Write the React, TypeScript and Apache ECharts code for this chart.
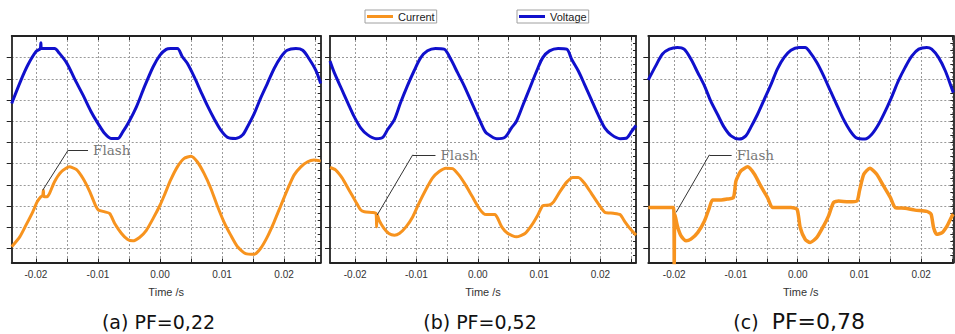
import React, { useEffect, useRef } from 'react';
import * as echarts from 'echarts';

// ---- tick values / labels ----
const xTickValues = [-0.02, -0.015, -0.01, -0.005, 0, 0.005, 0.01, 0.015, 0.02, 0.025];
const xLabelValues = [-0.02, -0.01, 0, 0.01, 0.02];
const yGridValues = [0, 1, 2, 3, 4, 5, 6, 7, 8, 9];
const yMinorValues: number[] = [];
for (let k = -1; k <= 30; k++) yMinorValues.push(k / 3);
const xAxisName = 'Time /s';
const seriesNames = ['Current', 'Voltage'];

// ---- panel (a) PF=0,22 ----
const voltageA: [number, number][] = [
  [-0.0239, 6.84], [-0.0224, 7.94], [-0.0213, 8.65], [-0.02, 9.28], [-0.0193, 9.43], [-0.0192, 9.7],
  [-0.0191, 9.43], [-0.017, 9.43], [-0.0162, 9.2], [-0.015, 8.73], [-0.0138, 8.02], [-0.0124, 7.23],
  [-0.0111, 6.45], [-0.01, 5.9], [-0.0089, 5.42], [-0.0079, 5.19], [-0.0068, 5.19], [-0.006, 5.5],
  [-0.005, 5.98], [-0.0038, 6.68], [-0.0025, 7.63], [-0.0011, 8.57], [0.0, 9.12], [0.001, 9.39],
  [0.0017, 9.43], [0.0028, 9.43], [0.0036, 9.04], [0.0044, 8.73], [0.0055, 8.1], [0.0066, 7.39],
  [0.0076, 6.76], [0.0087, 6.13], [0.0098, 5.58], [0.0109, 5.24], [0.0122, 5.19], [0.0133, 5.35],
  [0.0141, 5.74], [0.0152, 6.37], [0.0162, 7.08], [0.0173, 7.78], [0.0184, 8.49], [0.0195, 9.04],
  [0.0205, 9.35], [0.0219, 9.43], [0.023, 9.35], [0.024, 8.96], [0.0251, 8.41], [0.0259, 7.78],
];
const currentA: [number, number][] = [
  [-0.0239, 0.08], [-0.0226, 0.55], [-0.0216, 1.1], [-0.0205, 1.73], [-0.0198, 2.2], [-0.0192, 2.44],
  [-0.0189, 2.5], [-0.0188, 2.75], [-0.0187, 2.45], [-0.0182, 2.44], [-0.0178, 2.6], [-0.017, 3.15],
  [-0.0159, 3.62], [-0.0146, 3.85], [-0.0135, 3.73], [-0.0124, 3.3], [-0.0113, 2.67], [-0.0103, 1.97],
  [-0.0099, 1.81], [-0.0089, 1.73], [-0.0081, 1.65], [-0.0073, 1.18], [-0.0062, 0.71], [-0.0052, 0.42],
  [-0.0044, 0.36], [-0.0033, 0.52], [-0.0022, 0.86], [-0.0011, 1.42], [0.0, 2.04], [0.0007, 2.51],
  [0.0017, 3.22], [0.0028, 3.85], [0.0039, 4.25], [0.005, 4.35], [0.006, 4.09], [0.0071, 3.54],
  [0.0082, 2.83], [0.0092, 2.04], [0.0103, 1.26], [0.0114, 0.63], [0.0125, 0.08], [0.0138, -0.24],
  [0.0152, -0.27], [0.0162, 0.0], [0.0173, 0.55], [0.0184, 1.26], [0.0195, 2.04], [0.0205, 2.75],
  [0.0216, 3.46], [0.0227, 3.85], [0.0238, 4.09], [0.0248, 4.17], [0.0259, 4.12],
];
const flashA: [number, number][] = [[-0.0189, 2.75], [-0.0148, 4.64], [-0.0116, 4.64]];

// ---- panel (b) PF=0,52 ----
const voltageB: [number, number][] = [
  [-0.0241, 8.84], [-0.0234, 8.29], [-0.0223, 7.58], [-0.0212, 6.87], [-0.0202, 6.24], [-0.0191, 5.69],
  [-0.018, 5.37], [-0.0166, 5.18], [-0.0155, 5.24], [-0.0147, 5.61], [-0.0136, 6.08], [-0.0126, 6.87],
  [-0.0115, 7.66], [-0.0104, 8.37], [-0.0093, 9.0], [-0.0082, 9.32], [-0.0069, 9.43], [-0.0055, 9.4],
  [-0.0044, 8.92], [-0.0033, 8.29], [-0.0022, 7.66], [-0.0011, 6.95], [0.0, 6.24], [0.001, 5.61],
  [0.0014, 5.45], [0.0031, 5.18], [0.0044, 5.24], [0.0055, 5.69], [0.0063, 6.0], [0.0074, 6.79],
  [0.0085, 7.58], [0.0096, 8.37], [0.0106, 9.0], [0.0117, 9.32], [0.0131, 9.43], [0.0145, 9.4],
  [0.0153, 8.92], [0.0164, 8.37], [0.0174, 7.74], [0.0185, 7.03], [0.0196, 6.32], [0.0207, 5.69],
  [0.0218, 5.37], [0.0232, 5.18], [0.0242, 5.2], [0.0251, 5.53], [0.0258, 5.8],
];
const currentB: [number, number][] = [
  [-0.0241, 3.82], [-0.0232, 3.71], [-0.0221, 3.32], [-0.021, 2.76], [-0.0199, 2.21], [-0.0191, 1.82],
  [-0.0185, 1.73], [-0.0172, 1.7], [-0.0166, 1.66], [-0.0165, 1.02], [-0.0164, 1.6], [-0.0161, 1.34],
  [-0.0153, 0.95], [-0.0145, 0.71], [-0.0136, 0.63], [-0.0128, 0.71], [-0.0117, 1.02], [-0.0106, 1.5],
  [-0.0096, 2.13], [-0.0085, 2.76], [-0.0074, 3.32], [-0.0063, 3.63], [-0.0052, 3.79], [-0.0041, 3.77],
  [-0.0031, 3.47], [-0.002, 3.0], [-0.0009, 2.45], [0.0002, 1.9], [0.0009, 1.66], [0.0014, 1.6],
  [0.0028, 1.6], [0.0032, 1.45], [0.0039, 1.02], [0.0049, 0.71], [0.0063, 0.55], [0.0077, 0.71],
  [0.0088, 1.1], [0.0098, 1.58], [0.0106, 2.02], [0.0117, 2.05], [0.0124, 2.21], [0.0134, 2.68],
  [0.0145, 3.13], [0.0155, 3.35], [0.0164, 3.35], [0.0174, 3.08], [0.0185, 2.61], [0.0196, 2.13],
  [0.0207, 1.71], [0.0221, 1.66], [0.0232, 1.6], [0.024, 1.26], [0.0248, 0.95], [0.0258, 0.63],
];
const flashB: [number, number][] = [[-0.0164, 1.58], [-0.0106, 4.42], [-0.0069, 4.42]];

// ---- panel (c) PF=0,78 ----
const voltageC: [number, number][] = [
  [-0.0242, 7.95], [-0.023, 8.61], [-0.0219, 9.17], [-0.0208, 9.4], [-0.0195, 9.48], [-0.0184, 9.4],
  [-0.0173, 8.93], [-0.0162, 8.3], [-0.0151, 7.67], [-0.0141, 6.96], [-0.013, 6.33], [-0.0119, 5.71],
  [-0.0108, 5.31], [-0.0095, 5.16], [-0.0084, 5.31], [-0.0076, 5.71], [-0.0065, 6.33], [-0.0054, 7.04],
  [-0.0043, 7.75], [-0.0033, 8.46], [-0.0022, 9.01], [-0.0011, 9.35], [0.0002, 9.48], [0.0012, 9.48],
  [0.002, 9.25], [0.0031, 8.77], [0.0042, 8.14], [0.0053, 7.43], [0.0064, 6.73], [0.0074, 6.1],
  [0.0085, 5.55], [0.0096, 5.2], [0.0109, 5.16], [0.012, 5.39], [0.0131, 5.86], [0.0142, 6.49],
  [0.0153, 7.2], [0.0163, 7.9], [0.0174, 8.54], [0.0185, 9.08], [0.0196, 9.4], [0.0209, 9.48],
  [0.0217, 9.4], [0.0228, 9.01], [0.0239, 8.38], [0.025, 7.51], [0.0252, 7.35],
];
const currentC: [number, number][] = [
  [-0.0242, 1.93], [-0.0222, 1.93], [-0.0201, 1.93], [-0.02, -0.8], [-0.0199, 1.62], [-0.0195, 1.07],
  [-0.0189, 0.59], [-0.0181, 0.36], [-0.0173, 0.44], [-0.0162, 0.75], [-0.0151, 1.3], [-0.0143, 1.93],
  [-0.0138, 2.29], [-0.0124, 2.29], [-0.0114, 2.33], [-0.0104, 2.41], [-0.01, 3.19], [-0.0092, 3.66],
  [-0.0081, 3.85], [-0.007, 3.5], [-0.006, 2.95], [-0.0049, 2.41], [-0.0041, 1.93], [-0.0027, 1.93],
  [-0.0011, 1.93], [-0.0001, 1.85], [0.0004, 0.99], [0.0012, 0.44], [0.002, 0.28], [0.0031, 0.52],
  [0.0042, 1.07], [0.005, 1.54], [0.0058, 2.17], [0.0066, 2.24], [0.0082, 2.2], [0.0096, 2.24],
  [0.01, 2.72], [0.0107, 3.5], [0.0117, 3.79], [0.0128, 3.5], [0.0139, 2.95], [0.015, 2.41],
  [0.0158, 1.93], [0.0174, 1.9], [0.019, 1.81], [0.0209, 1.75], [0.0216, 1.62], [0.022, 0.99],
  [0.0225, 0.67], [0.0234, 0.75], [0.0242, 1.07], [0.025, 1.54], [0.0252, 1.62],
];
const flashC: [number, number][] = [[-0.0197, 1.7], [-0.0143, 4.42], [-0.0107, 4.42]];

const flashText = 'Flash';

const BLUE = '#1010cc';
const ORANGE = '#f7931e';
const FRAME = '#222';

const panels = [
  { left: 11.7, width: 309, xMin: -0.0239, xMax: 0.0259, voltage: voltageA, current: currentA, flash: flashA },
  { left: 330, width: 306, xMin: -0.0241, xMax: 0.0258, voltage: voltageB, current: currentB, flash: flashB },
  { left: 648.3, width: 305, xMin: -0.0242, xMax: 0.0252, voltage: voltageC, current: currentC, flash: flashC },
];

const Y_MIN = -0.66;
const Y_MAX = 10.02;

export default function App() {
  const ref = useRef<HTMLDivElement>(null);
  useEffect(() => {
    document.body.style.margin = '0';
    if (!ref.current) return;
    const chart = echarts.init(ref.current, undefined, { renderer: 'svg' });

    const grid: any[] = [];
    const xAxis: any[] = [];
    const yAxis: any[] = [];
    const series: any[] = [];
    const axisLine = { show: true, onZero: false, lineStyle: { color: FRAME, width: 1.8 } };
    const tickStyle = { color: FRAME, width: 1 };
    const splitLine = { show: true, lineStyle: { color: '#9a9a9a', width: 1, type: [2, 2] } };

    panels.forEach((p, i) => {
      grid.push({ left: p.left, top: 36, width: p.width, height: 226.5, containLabel: false });
      xAxis.push({
        type: 'value', gridIndex: i, min: p.xMin, max: p.xMax, position: 'bottom',
        axisLine,
        axisTick: { show: true, inside: true, length: 4, customValues: xTickValues, lineStyle: tickStyle },
        axisLabel: {
          show: true, customValues: xLabelValues, formatter: (v: number) => v.toFixed(2),
          fontFamily: 'Liberation Sans', fontSize: 10, color: '#333', margin: 7,
        },
        splitLine,
        name: xAxisName, nameLocation: 'middle', nameGap: 24,
        nameTextStyle: { fontFamily: 'Liberation Sans', fontSize: 11, color: '#333' },
      });
      xAxis.push({
        type: 'value', gridIndex: i, min: p.xMin, max: p.xMax, position: 'top',
        axisLine,
        axisTick: { show: true, inside: true, length: 4, customValues: xTickValues, lineStyle: tickStyle },
        axisLabel: { show: false },
        splitLine: { show: false },
      });
      yAxis.push({
        type: 'value', gridIndex: i, min: Y_MIN, max: Y_MAX, position: 'left',
        axisLine,
        axisTick: { show: true, inside: false, length: 5, customValues: yGridValues, lineStyle: tickStyle },
        axisLabel: { show: false },
        splitLine,
      });
      yAxis.push({
        type: 'value', gridIndex: i, min: Y_MIN, max: Y_MAX, position: 'right',
        axisLine,
        axisTick: { show: true, inside: true, length: 3, customValues: yMinorValues, lineStyle: tickStyle },
        axisLabel: { show: false },
        splitLine: { show: false },
      });
      series.push({
        name: 'Voltage', type: 'line', xAxisIndex: 2 * i, yAxisIndex: 2 * i,
        data: p.voltage, symbol: 'none', showSymbol: false, smooth: 0.3,
        lineStyle: { color: BLUE, width: 3 }, itemStyle: { color: BLUE }, z: 3,
      });
      series.push({
        name: 'Current', type: 'line', xAxisIndex: 2 * i, yAxisIndex: 2 * i,
        data: p.current, symbol: 'none', showSymbol: false, smooth: 0.2,
        lineStyle: { color: ORANGE, width: i === 2 ? 3.5 : 3 }, itemStyle: { color: ORANGE }, z: 3,
        markLine: {
          silent: true, symbol: ['none', 'none'], animation: false,
          lineStyle: { color: '#333', width: 1, type: 'solid' },
          label: { show: false },
          emphasis: { disabled: true },
          data: [
            [{ coord: p.flash[0] }, { coord: p.flash[1] }],
            [
              { coord: p.flash[1] },
              {
                coord: p.flash[2],
                label: {
                  show: true, position: 'end', formatter: flashText, distance: 5,
                  padding: [6, 0, 0, 0],
                  fontFamily: 'DejaVu Serif', fontSize: 13.5, color: '#777',
                },
              },
            ],
          ],
        },
      });
    });

    const legendBase = {
      orient: 'horizontal', top: 10, icon: 'rect', itemWidth: 26, itemHeight: 3,
      borderColor: '#a0a0a0', borderWidth: 1, borderRadius: 0, padding: [1, 2],
      backgroundColor: '#fff',
      textStyle: { fontFamily: 'Liberation Sans', fontSize: 11, color: '#222' },
    };

    const captionFont = '19px "DejaVu Sans"';
    chart.setOption({
      animation: false,
      backgroundColor: '#fff',
      grid,
      xAxis,
      yAxis,
      series,
      legend: [
        { ...legendBase, left: 365, data: [seriesNames[0]] },
        { ...legendBase, left: 517, data: [seriesNames[1]] },
      ],
      graphic: [
        { type: 'text', x: 158.5, y: 321.5, style: { text: '(a) PF=0,22', font: captionFont, fill: '#111', textAlign: 'center', textVerticalAlign: 'middle' } },
        { type: 'text', x: 480, y: 321.5, style: { text: '(b) PF=0,52', font: captionFont, fill: '#111', textAlign: 'center', textVerticalAlign: 'middle' } },
        { type: 'text', x: 733.3, y: 321.5, style: { text: '(c)', font: captionFont, fill: '#111', textAlign: 'left', textVerticalAlign: 'middle' } },
        { type: 'text', x: 771.7, y: 321.5, style: { text: 'PF=0,78', font: '22px "DejaVu Sans"', fill: '#111', textAlign: 'left', textVerticalAlign: 'middle' } },
      ],
    });
    return () => chart.dispose();
  }, []);
  return <div ref={ref} style={{ position: 'absolute', left: 0, top: 0, width: 955, height: 334 }} />;
}
